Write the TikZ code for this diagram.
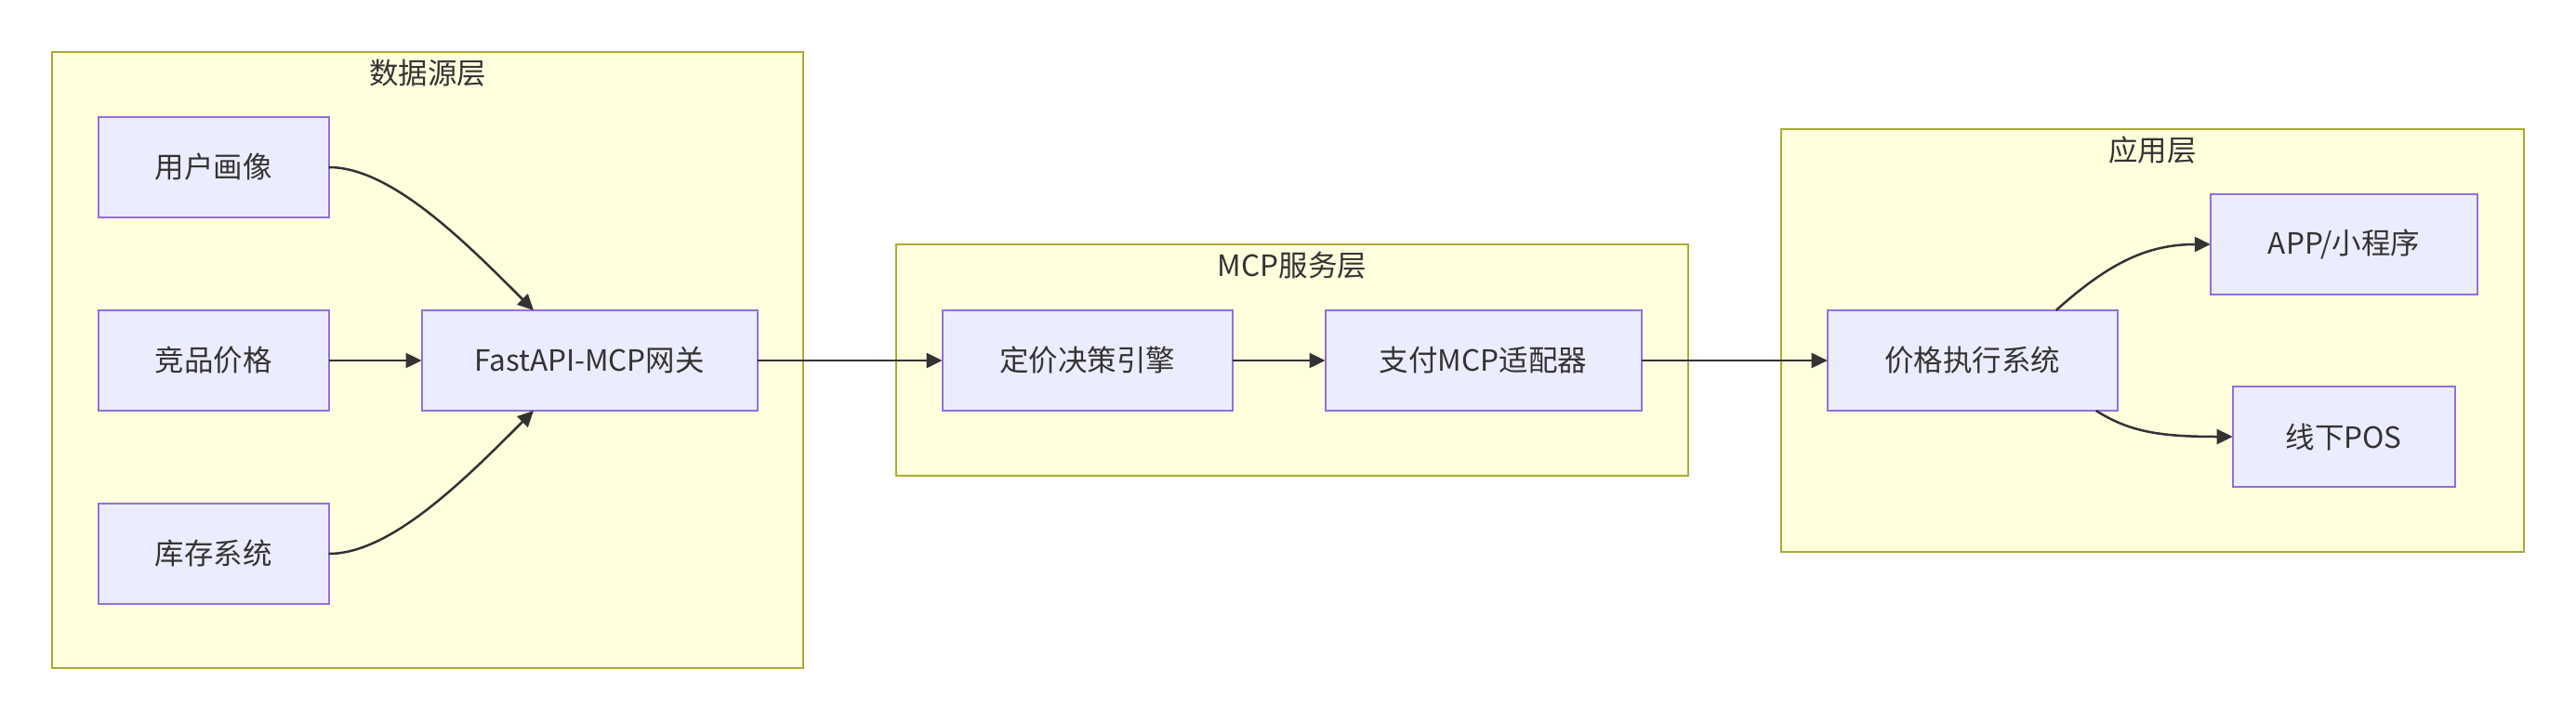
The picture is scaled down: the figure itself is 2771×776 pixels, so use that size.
\documentclass[tikz,border=0pt]{standalone}
\usepackage{fontspec}
\setmainfont{Noto Sans CJK SC}
\usetikzlibrary{arrows.meta}
\definecolor{nodefill}{HTML}{ECECFF}
\definecolor{nodeline}{HTML}{9370DB}
\definecolor{clusterfill}{HTML}{FFFFDE}
\definecolor{clusterline}{HTML}{AAAA33}
\definecolor{edgecol}{HTML}{333333}
\tikzset{
  cluster/.style={draw=clusterline, fill=clusterfill, line width=2pt, inner sep=0pt, outer sep=0pt},
  cltitle/.style={text=edgecol, font=\fontsize{31.5pt}{38pt}\selectfont, inner sep=0pt},
  box/.style={draw=nodeline, fill=nodefill, line width=2pt, minimum height=108pt, inner sep=0pt, outer sep=0pt,
    text=edgecol, font=\fontsize{31.5pt}{38pt}\selectfont},
  conn/.style={draw=edgecol, line width=2.5pt, -{Triangle[length=17pt,width=16pt]}}
}
\begin{document}
\begin{tikzpicture}[x=1pt,y=-1pt]
\useasboundingbox[fill=white] (0,0) rectangle (2771,776);
% clusters
\node[cluster, minimum width=808pt, minimum height=663pt] (c1) at (460,387.5) {};
\node[cluster, minimum width=852pt, minimum height=249pt] (c2) at (1390,387.5) {};
\node[cluster, minimum width=799pt, minimum height=455pt] (c3) at (2315.5,366.5) {};
\node[cltitle] (t1) at (460,79) {数据源层};
\node[cltitle] (t2) at (1390,286) {MCP服务层};
\node[cltitle] (t3) at (2315.5,162) {应用层};
% nodes
\node[box, minimum width=248pt] (user) at (229.6,180) {用户画像};
\node[box, minimum width=248pt] (comp) at (229.6,388) {竞品价格};
\node[box, minimum width=248pt] (stock) at (229.6,596) {库存系统};
\node[box, minimum width=361pt] (gw) at (634,388) {FastAPI-MCP网关};
\node[box, minimum width=312.5pt] (engine) at (1169.8,388) {定价决策引擎};
\node[box, minimum width=340pt] (pay) at (1595.5,388) {支付MCP适配器};
\node[box, minimum width=312pt] (exec) at (2121.7,388) {价格执行系统};
\node[box, minimum width=287.5pt] (app) at (2521.5,263) {APP/小程序};
\node[box, minimum width=239pt] (pos) at (2521.2,470) {线下POS};
% connectors
\draw[conn] (user.east) .. controls +(67,0) and +(-74,-74) .. ([xshift=-60pt]gw.north);
\draw[conn] (comp.east) -- (gw.west);
\draw[conn] (stock.east) .. controls +(67,0) and +(-74,74) .. ([xshift=-60pt]gw.south);
\draw[conn] (gw.east) -- (engine.west);
\draw[conn] (engine.east) -- (pay.west);
\draw[conn] (pay.east) -- (exec.west);
\draw[conn] ([xshift=90pt]exec.north) .. controls +(58,-52) and +(-67,0) .. (app.west);
\draw[conn] ([xshift=133pt]exec.south) .. controls +(35,22) and +(-81,0) .. (pos.west);
\end{tikzpicture}
\end{document}
